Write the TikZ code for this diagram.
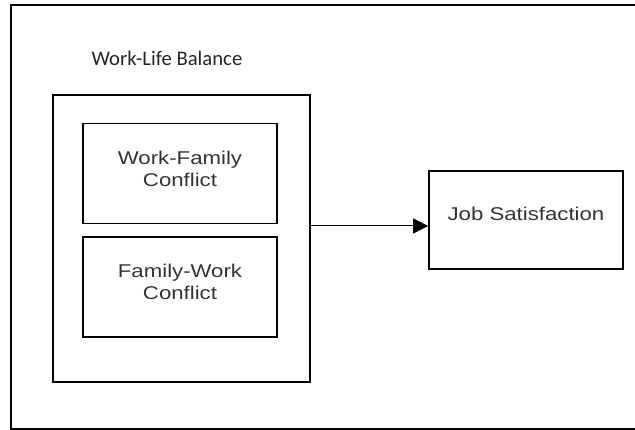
\documentclass[tikz,border=0pt]{standalone}
\usepackage{fontspec}
\usetikzlibrary{arrows.meta}
\newfontfamily\titlefont{Carlito}
\newfontfamily\boxfont[FakeStretch=1.2]{Liberation Sans}

\tikzset{
  box/.style={draw, line width=1.7pt, minimum width=194pt, minimum height=100pt, inner sep=0pt},
  boxtext/.style={font=\boxfont\fontsize{18.5}{22}\selectfont, align=center, text=black!80},
}

\begin{document}
\begin{tikzpicture}[x=1pt, y=-1pt]
                    \useasboundingbox (0,0) rectangle (635,430);
                    % frame, open at the right
                    \draw[line width=2.4pt] (640,5) -- (11,5) -- (11,429) -- (640,429);
                    \node[font=\titlefont\fontsize{20.7}{24}\selectfont, text=black!85] (title) at (167,58) {Work-Life Balance};
                    % outer box with the two conflicts
                    \draw[line width=1.1pt] (53,95) rectangle (310,382);
                    \coordinate (wlbeast) at (310,226);
                    \node[box] (wfc) at (180,173.5) {};
                    \node[boxtext] (wfctext) at ([yshift=5pt]wfc.center) {Work-Family\\Conflict};
                    \node[box] (fwc) at (180,287) {};
                    \node[boxtext] (fwctext) at ([yshift=5pt]fwc.center) {Family-Work\\Conflict};
                    % outcome
                    \node[box, minimum height=98pt] (job) at (526,220) {};
                    \node[boxtext] (jobtext) at ([yshift=6pt]job.center) {Job Satisfaction};
                    \draw[-{Triangle[length=15pt,width=15pt]}, line width=1pt] (wlbeast) -- (wlbeast -| job.west);
                \end{tikzpicture}
\end{document}
